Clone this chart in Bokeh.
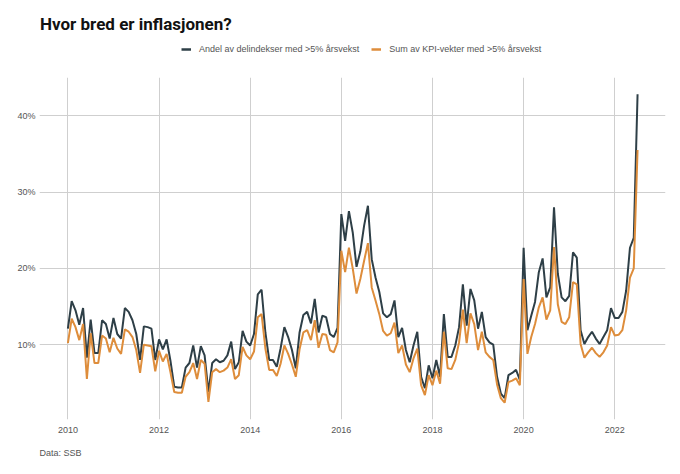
import numpy as np
import pandas as pd
from bokeh.plotting import figure
from bokeh.layouts import column
from bokeh.models import Range1d, FixedTicker, Legend, LegendItem, Title, Label
from bokeh.embed import file_html
from bokeh.resources import INLINE

start_month = "2010-01"
andel = [
    12.1, 15.7, 14.5, 12.6, 14.8, 8.3, 13.3, 8.9, 8.9, 13.2, 12.7, 10.8,
    13.5, 11.4, 10.8, 14.8, 14.3, 13.2, 11.4, 8.0, 12.4, 12.3, 12.1, 8.0,
    10.7, 9.4, 10.7, 7.9, 4.5, 4.4, 4.4, 7.0, 7.6, 9.9, 7.0, 9.8,
    8.6, 3.8, 7.6, 8.1, 7.7, 7.9, 8.6, 10.4, 6.8, 7.7, 11.8, 10.4,
    9.9, 11.4, 16.6, 17.2, 11.6, 8.0, 8.0, 7.1, 9.5, 12.3, 11.0, 9.3,
    6.9, 11.6, 13.9, 14.3, 12.8, 16.0, 11.6, 13.8, 13.6, 11.4, 11.0, 12.2,
    27.1, 23.6, 27.5, 24.7, 20.2, 22.2, 25.6, 28.2, 21.2, 18.8, 16.9, 14.1,
    13.6, 14.0, 15.8, 11.0, 12.2, 9.3, 7.7, 9.9, 11.7, 5.8, 4.3, 7.3,
    5.6, 8.0, 5.8, 14.0, 8.4, 8.4, 9.9, 12.3, 17.9, 12.5, 17.3, 15.8,
    12.1, 14.3, 11.0, 10.3, 10.0, 5.8, 3.6, 3.0, 6.0, 6.3, 6.7, 5.4,
    22.7, 11.9, 13.8, 15.6, 19.5, 21.3, 16.2, 17.5, 28.0, 19.3, 16.2, 15.7,
    16.4, 22.1, 21.4, 11.9, 10.1, 11.0, 11.7, 10.8, 10.1, 11.0, 11.9, 14.8,
    13.5, 13.5, 14.3, 17.1, 22.7, 24.0, 42.8,
]
sum_vekter = [
    10.2, 13.4, 12.3, 10.6, 12.7, 5.5, 11.5, 7.6, 7.6, 11.2, 10.8, 9.0,
    10.9, 9.5, 8.8, 12.0, 11.7, 11.0, 9.3, 6.3, 10.0, 9.9, 9.8, 6.5,
    9.2, 7.8, 8.8, 6.4, 3.8, 3.7, 3.7, 5.8, 6.4, 7.6, 5.5, 8.0,
    7.5, 2.5, 6.4, 6.8, 6.4, 6.6, 7.0, 8.1, 5.5, 6.0, 9.7, 8.6,
    8.1, 9.1, 13.6, 14.0, 9.5, 6.7, 6.7, 5.9, 7.5, 9.9, 8.8, 7.4,
    5.8, 9.4, 11.6, 11.9, 10.6, 13.2, 9.6, 11.4, 11.3, 9.3, 9.0, 10.3,
    22.3, 19.5, 22.7, 20.0, 16.7, 18.6, 21.0, 23.3, 17.5, 15.8, 14.0, 11.8,
    11.2, 11.5, 12.9, 8.9, 9.9, 7.4, 6.4, 8.2, 9.5, 4.7, 3.4, 6.0,
    4.7, 6.6, 4.9, 11.7, 6.9, 6.8, 8.0, 10.3, 14.6, 10.2, 14.1, 12.7,
    9.3, 11.7, 9.0, 8.4, 8.0, 4.8, 3.0, 2.4, 5.1, 5.3, 5.6, 4.7,
    18.6, 8.8, 11.0, 12.7, 14.9, 16.2, 13.3, 14.5, 22.8, 15.3, 13.0, 12.7,
    13.6, 18.2, 17.9, 10.1, 8.3, 9.0, 9.6, 8.9, 8.4, 9.0, 9.9, 12.3,
    11.2, 11.3, 11.9, 14.5, 18.8, 20.0, 35.5,
]
x_ticks = [2010, 2012, 2014, 2016, 2018, 2020, 2022]
y_ticks = [10, 20, 30, 40]
title_text = "Hvor bred er inflasjonen?"
label_andel = "Andel av delindekser med >5% årsvekst"
label_sum = "Sum av KPI-vekter med >5% årsvekst"
source_text = "Data: SSB"

dates = pd.date_range(start_month, periods=len(andel), freq="MS")
xs = np.asarray(dates.year + (dates.month - 1) / 12.0, dtype=float)

DARK = "#2e3f47"
ORANGE = "#de8d3b"
GRID = "#cfcfcf"
TXT = "#555555"

W = 672
TOP_H = 69
LEFT = 39
RIGHT = 7

# --- header: title + legend (data units = page pixels) ------------------
head = figure(
    width=W, height=TOP_H,
    min_border_left=LEFT, min_border_right=RIGHT, min_border_top=0, min_border_bottom=0,
    x_range=Range1d(LEFT, W - RIGHT), y_range=Range1d(TOP_H, 0),
    x_axis_location=None, y_axis_location=None,
    output_backend="svg", toolbar_location=None,
)
head.grid.visible = False
head.outline_line_color = None
head.background_fill_color = "white"
head.border_fill_color = "white"

head.add_layout(Label(x=39.5, y=23, text=title_text, text_font="Roboto",
                      text_font_size="17px", text_font_style="bold",
                      text_color="#111111", text_baseline="alphabetic"))

nan = np.array([np.nan])
h1 = head.line(x=nan, y=nan, line_color=DARK, line_width=2.5)
h2 = head.line(x=nan, y=nan, line_color=ORANGE, line_width=2.5)
legend = Legend(
    items=[LegendItem(label=label_andel, renderers=[h1]),
           LegendItem(label=label_sum, renderers=[h2])],
    orientation="horizontal", location=(142, 15),
    border_line_color=None, background_fill_alpha=0,
    label_text_font="Liberation Sans", label_text_font_size="9px",
    label_text_color=TXT, glyph_width=10, glyph_height=10, label_height=10,
    label_standoff=8, spacing=12, padding=0, margin=0,
)
head.add_layout(legend, "center")

# --- main chart --------------------------------------------------------
p = figure(
    width=W, height=402,
    min_border_left=LEFT, min_border_right=RIGHT, min_border_top=8, min_border_bottom=52,
    x_range=Range1d(2009.377, 2023.113), y_range=Range1d(0.2, 45.0),
    output_backend="svg", toolbar_location=None,
)
p.outline_line_color = None
p.background_fill_color = "white"
p.border_fill_color = "white"

p.line(xs, andel, line_color=DARK, line_width=2)
p.line(xs, sum_vekter, line_color=ORANGE, line_width=2)

for ax in (p.xaxis[0], p.yaxis[0]):
    ax.axis_line_color = None
    ax.major_tick_line_color = None
    ax.minor_tick_line_color = None
    ax.major_tick_out = 0
    ax.major_tick_in = 0
    ax.minor_tick_out = 0
    ax.major_label_text_font = "Liberation Sans"
    ax.major_label_text_font_size = "9px"
    ax.major_label_text_color = TXT

p.xaxis.ticker = FixedTicker(ticks=x_ticks)
p.xaxis.major_label_standoff = 7
p.yaxis.ticker = FixedTicker(ticks=y_ticks)
p.yaxis.major_label_overrides = {t: f"{t}%" for t in y_ticks}
p.yaxis.major_label_standoff = 4

p.xgrid.grid_line_color = GRID
p.ygrid.grid_line_color = GRID

p.add_layout(Title(text=source_text, text_font="Liberation Sans",
                   text_font_size="9px", text_font_style="normal",
                   text_color=TXT, align="left", standoff=21), "below")

layout = column(head, p, spacing=0)
open("out.html", "w").write(file_html(layout, INLINE))
